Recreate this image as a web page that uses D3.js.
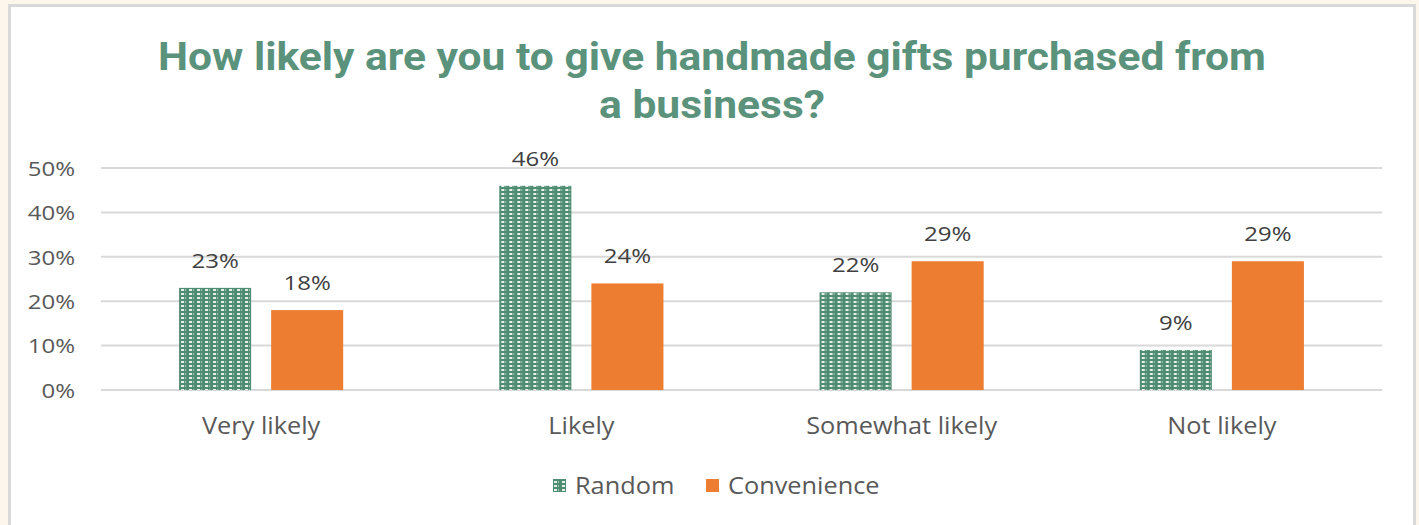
<!DOCTYPE html>
<html>
<head>
<meta charset="utf-8">
<script src="https://cdn.jsdelivr.net/npm/d3@7"></script>
<style>
  html, body { margin: 0; padding: 0; background: #fcf6ed; }
  svg { display: block; }
</style>
</head>
<body>
<svg id="chart" width="1419" height="525"></svg>
<script>
const categories = ["Very likely", "Likely", "Somewhat likely", "Not likely"];
const seriesNames = ["Random", "Convenience"];
const randomValues = [0.23, 0.46, 0.22, 0.09];
const convenienceValues = [0.18, 0.24, 0.29, 0.29];
const yTicks = [0, 0.1, 0.2, 0.3, 0.4, 0.5];
const titleLines = ["How likely are you to give handmade gifts purchased from", "a business?"];

const W = 1419, H = 525;
const svg = d3.select("#chart");
const bodyFont = "'Open Sans', 'Noto Sans', sans-serif";
const pct = d3.format(".0%");

// Card panel
svg.append("rect").attr("x", 0).attr("y", 0).attr("width", W).attr("height", H).attr("fill", "#fcf6ed");
svg.append("rect").attr("x", 9.5).attr("y", 5.5).attr("width", 1405).attr("height", 530)
  .attr("fill", "#ffffff").attr("stroke", "#d9d9d9").attr("stroke-width", 3);

// Dotted-grid pattern for the Random series
const defs = svg.append("defs");
const pat = defs.append("pattern").attr("id", "gridPat").attr("patternUnits", "userSpaceOnUse")
  .attr("width", 8).attr("height", 4);
pat.append("rect").attr("width", 8).attr("height", 4).attr("fill", "#4f8d73");
pat.append("rect").attr("x", 2).attr("y", 1).attr("width", 3).attr("height", 2).attr("fill", "#e6efe9");
pat.append("rect").attr("x", 6).attr("y", 1).attr("width", 1).attr("height", 2).attr("fill", "#9fc2b2");

// Title (slightly widened lettering)
titleLines.forEach((t, i) => {
  svg.append("g").attr("transform", `translate(712,${70 + i * 48}) scale(1.12,1)`)
    .append("text").attr("text-anchor", "middle")
    .attr("font-family", "Roboto, sans-serif").attr("font-weight", 700)
    .attr("font-size", 38).attr("fill", "#5a927b").text(t);
});

// Scales
const plot = { left: 101, right: 1382, top: 168, bottom: 390 };
const x0 = d3.scaleBand().domain(categories).range([plot.left, plot.right])
  .paddingInner(0.4875).paddingOuter(0.24375);
const x1 = d3.scaleBand().domain(seriesNames).range([0, x0.bandwidth()]).paddingInner(20 / 92);
const y = d3.scaleLinear().domain([0, 0.5]).range([plot.bottom, plot.top]);

// Gridlines
svg.append("g").selectAll("line").data(yTicks).join("line")
  .attr("x1", plot.left).attr("x2", plot.right)
  .attr("y1", d => y(d)).attr("y2", d => y(d))
  .attr("stroke", "#d9d9d9").attr("stroke-width", 2);

// Y axis labels
const yAxis = d3.axisLeft(y).tickValues(yTicks).tickFormat(pct).tickSize(0).tickPadding(0);
const yg = svg.append("g").attr("transform", `translate(75,0)`).call(yAxis);
yg.select(".domain").remove();
yg.selectAll("text").attr("font-family", bodyFont)
  .attr("font-size", 20).attr("fill", "#595959").attr("dy", "0.36em")
  .attr("transform", "scale(1.2,1)");

// X axis labels
const xAxis = d3.axisBottom(x0).tickSize(0).tickPadding(0);
const xg = svg.append("g").attr("transform", `translate(0,${plot.bottom + 27})`).call(xAxis);
xg.select(".domain").remove();
xg.selectAll("text").attr("font-family", bodyFont)
  .attr("font-size", 24).attr("fill", "#595959").attr("dy", "0.71em")
  .attr("transform", "scale(1.055,1)");

// Bars
const rows = categories.map((c, i) => ({
  cat: c,
  vals: [
    { s: "Random", v: randomValues[i] },
    { s: "Convenience", v: convenienceValues[i] }
  ]
}));
const fills = { Random: "url(#gridPat)", Convenience: "#ed7d31" };

const groups = svg.append("g").selectAll("g").data(rows).join("g")
  .attr("transform", d => `translate(${x0(d.cat)},0)`);
groups.selectAll("rect").data(d => d.vals).join("rect")
  .attr("x", d => x1(d.s)).attr("width", x1.bandwidth())
  .attr("y", d => y(d.v)).attr("height", d => y(0) - y(d.v))
  .attr("fill", d => fills[d.s]);
groups.selectAll("g.lbl").data(d => d.vals).join("g").attr("class", "lbl")
  .attr("transform", d => `translate(${x1(d.s) + x1.bandwidth() / 2},${y(d.v) - 20}) scale(1.2,1)`)
  .append("text")
  .attr("text-anchor", "middle")
  .attr("font-family", bodyFont)
  .attr("font-size", 20).attr("fill", "#404040")
  .text(d => pct(d.v));

// Legend
const legendItems = [
  { s: "Random", x: 553 },
  { s: "Convenience", x: 706 }
];
legendItems.forEach(it => {
  svg.append("rect").attr("x", it.x).attr("y", 479).attr("width", 13).attr("height", 13)
    .attr("fill", fills[it.s]);
  svg.append("g").attr("transform", `translate(${it.x + 22},494) scale(1.055,1)`)
    .append("text").attr("font-family", bodyFont)
    .attr("font-size", 24).attr("fill", "#595959").text(it.s);
});
</script>
</body>
</html>
